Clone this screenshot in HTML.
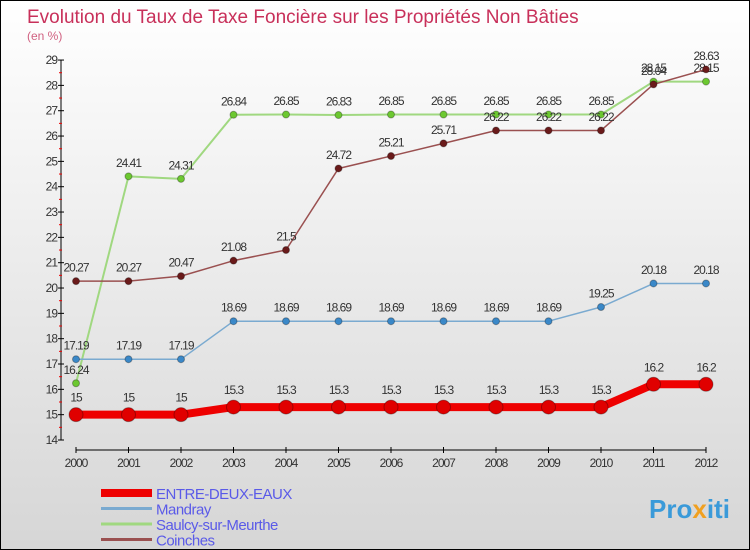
<!DOCTYPE html>
<html><head><meta charset="utf-8"><style>
body{margin:0}
#c{width:750px;height:550px;position:relative;box-sizing:border-box;border:1px solid #000;background:linear-gradient(#ffffff,#d6d6d6);font-family:"Liberation Sans",sans-serif;overflow:hidden}
</style></head><body>
<div id="c">
<svg id="s" width="748" height="548" style="position:absolute;left:0;top:0">
<text x="26" y="22" font-size="19" fill="#c8305a">Evolution du Taux de Taxe Foncière sur les Propriétés Non Bâties</text>
<text x="26" y="39" font-size="12" fill="#d06080">(en %)</text>
<text x="648" y="517" font-size="26" font-weight="bold" fill="#3a9ad9">Pro<tspan fill="#f0a020">x</tspan>iti</text>
</svg>
</div>
<script>
const years=[2000,2001,2002,2003,2004,2005,2006,2007,2008,2009,2010,2011,2012];
const entre=[15,15,15,15.3,15.3,15.3,15.3,15.3,15.3,15.3,15.3,16.2,16.2];
const mandray=[17.19,17.19,17.19,18.69,18.69,18.69,18.69,18.69,18.69,18.69,19.25,20.18,20.18];
const saulcy=[16.24,24.41,24.31,26.84,26.85,26.83,26.85,26.85,26.85,26.85,26.85,28.15,28.15];
const coinches=[20.27,20.27,20.47,21.08,21.5,24.72,25.21,25.71,26.22,26.22,26.22,28.04,28.63];
const yTicks=[14,15,16,17,18,19,20,21,22,23,24,25,26,27,28,29];
const names=["ENTRE-DEUX-EAUX","Mandray","Saulcy-sur-Meurthe","Coinches"];
const NS="http://www.w3.org/2000/svg";
const s=document.getElementById('s');
const X=i=>75+i*52.5;
const Y=v=>439-(v-14)*25.33;
function el(t,a,p){const e=document.createElementNS(NS,t);for(const k in a)e.setAttribute(k,a[k]);(p||s).appendChild(e);return e;}
// axes
let ya=el('line',{x1:60,y1:Y(29),x2:60,y2:Y(14),stroke:'#000'});

yTicks.forEach(v=>{
 el('line',{x1:57,y1:Y(v),x2:63,y2:Y(v),stroke:'#000'});
 if(v<29){let m=el('line',{x1:58,y1:Y(v+0.5),x2:61,y2:Y(v+0.5),stroke:'#e00'});}
 let t=el('text',{x:56,y:Y(v)+4,'font-size':12,'text-anchor':'end',fill:'#333','letter-spacing':'-1'});
 t.textContent=v;
});
let xa=el('line',{x1:X(0),y1:449,x2:X(12),y2:449,stroke:'#000'});

years.forEach((y,i)=>{
 el('line',{x1:X(i),y1:446,x2:X(i),y2:452,stroke:'#000'});
 let t=el('text',{x:X(i),y:466,'font-size':12,'text-anchor':'middle',fill:'#333','letter-spacing':'-1'});
 t.textContent=y;
});
function series(d,color,dot,w,r,name,fmt){
 const g=el('g',{});
 el('polyline',{points:d.map((v,i)=>X(i)+','+Y(v)).join(' '),fill:'none',stroke:color,'stroke-width':w,'stroke-linejoin':'round'},g);
 d.forEach((v,i)=>{
  let c=el('circle',{cx:X(i),cy:Y(v),r:r,fill:dot,stroke:'rgba(0,0,0,0.3)','stroke-width':1},g);
  
  let t=el('text',{x:X(i),y:Y(v)-(r+6),'font-size':12,'text-anchor':'middle',fill:'#333','letter-spacing':'-1'},g);
  t.textContent=String(v);
 });
}
series(saulcy,'#a0d880','#6cc830',2,3.5,'saulcy');
series(coinches,'#9a5050','#6a1a1a',1.5,3.5,'coinches');
series(mandray,'#7aaad0','#3a88c8',1.5,3.5,'mandray');
series(entre,'#ee0000','#e00000',8,7,'entre-deux-eaux');
const lc=[['#ee0000',8],['#7aaad0',3],['#a0d880',3],['#9a5050',3]];
names.forEach((n,i)=>{
 const yy=492+i*15.5;
 let l=el('line',{x1:100,y1:yy,x2:151,y2:yy,stroke:lc[i][0],'stroke-width':lc[i][1]});
 
 let t=el('text',{x:155,y:yy+6,'font-size':15,fill:'#5a5ae8','letter-spacing':'-0.5'});
 t.textContent=n;
});
</script>
</body></html>
